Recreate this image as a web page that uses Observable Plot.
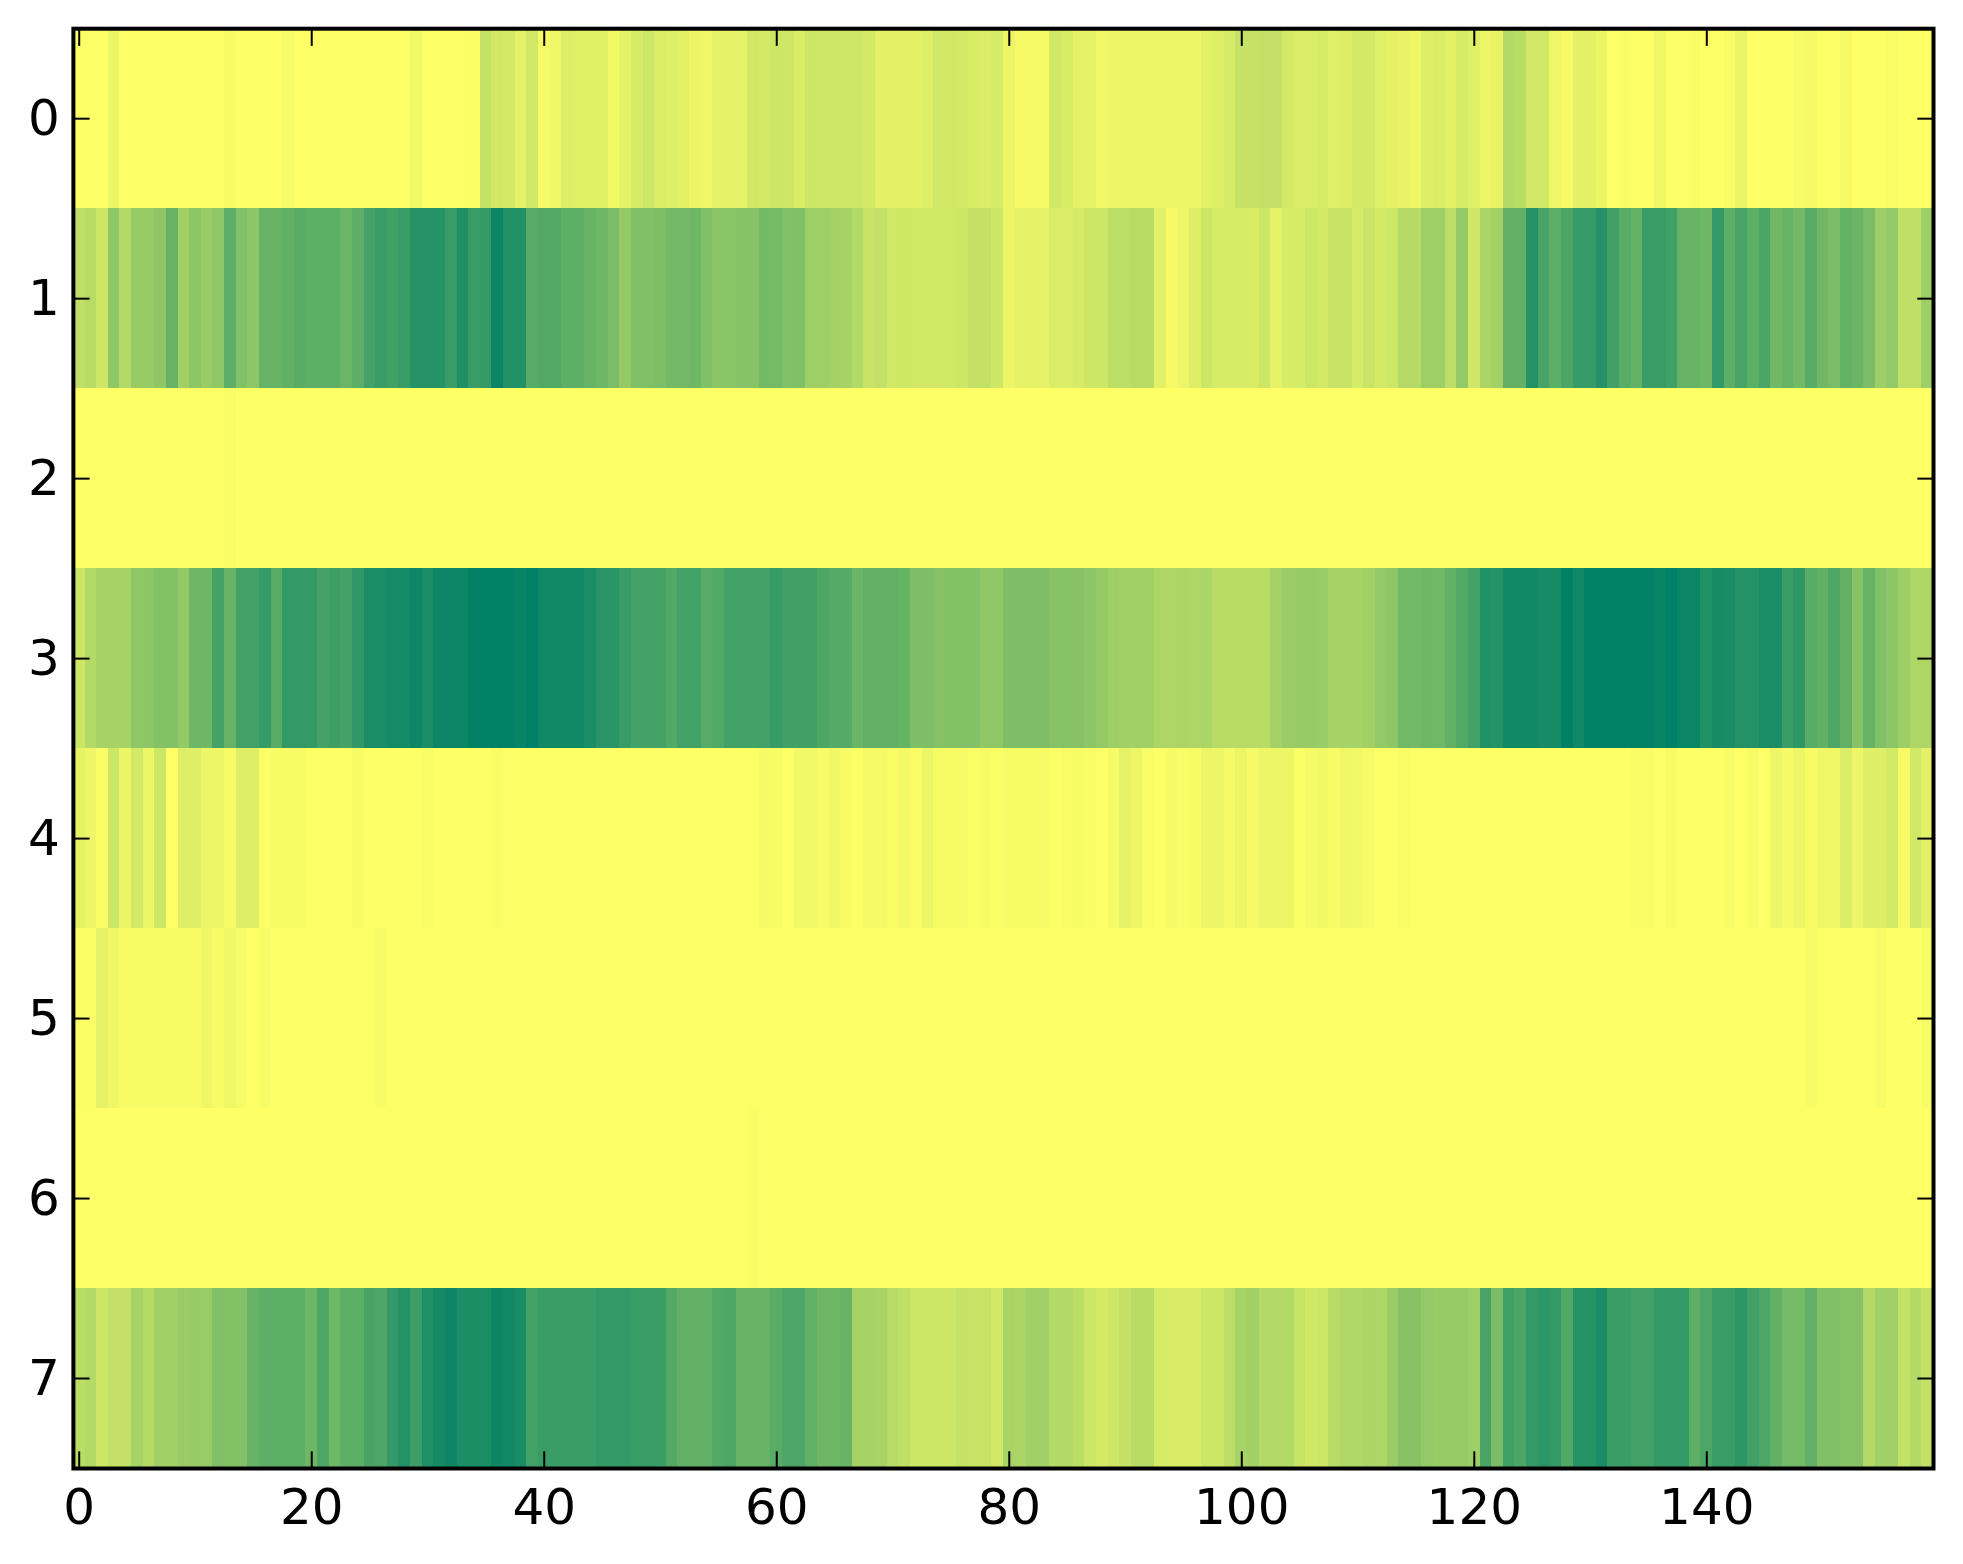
<!DOCTYPE html>
<html>
<head>
<meta charset="utf-8">
<style>html,body{margin:0;padding:0;background:#fff}svg{display:block}</style>
<script src="https://cdn.jsdelivr.net/npm/d3@7"></script>
<script src="https://cdn.jsdelivr.net/npm/@observablehq/plot@0.6"></script>
</head>
<body>
<div id="chart"></div>
<script>
const xTicks = [0,20,40,60,80,100,120,140];
const yTicks = [0,1,2,3,4,5,6,7];
const row0 = [0,0,0,.07,0,0,0,0,0,0, 0,0,0,.03,0,0,0,0,.03,0, 0,0,0,0,0,0,0,0,0,.05, 0,0,0,0,.01,.23,.18,.17,.1,.18,
 .04,.06,.13,.12,.12,.12,.05,.1,.16,.2, .14,.13,.11,.07,.06,.1,.1,.1,.18,.17, .2,.19,.14,.2,.19,.19,.19,.19,.17,.11, .11,.11,.11,.13,.18,.18,.17,.15,.14,.16,
 .08,.04,.04,.04,.18,.15,.1,.1,.05,.07, .07,.07,.07,.07,.07,.07,.07,.11,.13,.16, .23,.23,.24,.24,.17,.14,.14,.16,.12,.14, .17,.17,.12,.1,.09,.06,.13,.14,.11,.16,
 .12,.07,.09,.3,.27,.18,.18,.06,.04,.11, .11,.08,0,.02,0,0,.06,0,0,.02, 0,0,.02,.08,0,0,0,0,.03,.04, 0,0,.04,0,0,0,.02,0,0,0];
const row1 = [.25,.28,.2,.43,.3,.41,.41,.44,.6,.37, .45,.4,.44,.63,.5,.45,.6,.6,.62,.65, .63,.63,.63,.58,.63,.73,.77,.74,.78,.85, .85,.85,.78,.88,.78,.8,.96,.87,.87,.66,
 .68,.68,.63,.63,.6,.57,.52,.42,.5,.5, .51,.55,.55,.57,.5,.46,.46,.47,.47,.55, .54,.49,.5,.38,.38,.36,.35,.3,.22,.24, .18,.19,.18,.18,.18,.18,.2,.24,.24,.2,
 .08,.1,.1,.1,.14,.14,.16,.2,.2,.26, .26,.28,.28,.11,.04,.07,.13,.2,.16,.16, .16,.15,.2,.1,.16,.16,.2,.17,.22,.22, .16,.21,.17,.2,.29,.29,.38,.38,.26,.42,
 .19,.33,.36,.62,.62,.86,.72,.63,.7,.79, .79,.86,.75,.65,.61,.78,.78,.75,.6,.6, .57,.8,.63,.72,.63,.71,.56,.6,.55,.65, .56,.52,.61,.58,.52,.38,.42,.25,.25,.38];
const row2 = [0,0,0,0,0,0,0,0,0,0, 0,0,0,.02,0,0,0,0,0,0, 0,0,0,0,0,0,0,0,0,0, 0,0,0,0,0,0,0,0,0,0,
 0,0,0,0,0,0,0,0,0,0, 0,0,0,0,0,0,0,0,0,0, 0,0,0,0,0,0,0,0,0,0, 0,0,0,0,0,0,0,0,0,0,
 0,0,0,0,0,0,0,0,0,0, 0,0,0,0,0,0,0,0,0,0, 0,0,0,0,0,0,0,0,0,0, 0,0,0,0,0,0,0,0,0,0,
 0,0,0,0,0,0,0,0,0,0, 0,0,0,0,0,0,0,0,0,0, 0,0,0,0,0,0,0,0,0,0, 0,0,0,0,0,0,0,0,0,0];
const row3 = [.2,.3,.35,.35,.35,.44,.45,.49,.49,.42, .57,.57,.73,.6,.74,.74,.79,.66,.8,.8, .8,.73,.76,.73,.81,.9,.9,.92,.92,.95, .9,.95,.95,.95,.99,.99,.99,.99,.97,1,
 .93,.93,.93,.93,.9,.84,.84,.78,.73,.73, .73,.68,.74,.74,.66,.68,.74,.74,.74,.74, .79,.75,.75,.75,.7,.67,.67,.58,.62,.62, .62,.6,.51,.51,.48,.49,.49,.49,.44,.44,
 .51,.51,.51,.51,.47,.47,.47,.45,.42,.38, .37,.37,.37,.32,.32,.33,.32,.33,.28,.28, .28,.28,.28,.36,.4,.41,.41,.4,.35,.35, .35,.37,.42,.45,.55,.55,.57,.56,.62,.68,
 .74,.87,.85,.93,.93,.93,.91,.91,.99,.93, .99,.99,.99,.99,.99,.99,.97,1,.96,.96, .87,.91,.9,.86,.86,.9,.9,.77,.82,.65, .62,.7,.62,.47,.6,.5,.45,.38,.32,.32];
const row4 = [.1,.07,.02,.2,.08,.17,.07,.2,0,.13, .13,.07,.07,.03,.13,.13,.01,.03,.03,.03, 0,0,0,0,.03,0,0,0,0,0, .02,0,0,0,0,0,.02,0,0,0,
 0,0,0,0,0,0,0,0,0,0, 0,0,0,0,0,0,0,0,0,.04, .03,0,.05,.05,.03,.06,.03,0,.04,.04, .02,.05,.02,.07,.03,.03,.03,.01,.03,.01,
 .03,.03,.03,.03,0,.02,.03,.02,0,.04, .1,.07,.02,0,.04,.02,.03,.07,.07,.04, .08,.04,.07,.07,.07,.01,.04,.05,.03,.06, .05,.03,0,0,.02,0,0,0,0,0,
 0,0,0,0,0,0,0,0,0,0, 0,0,0,0,.02,.02,0,.03,0,0, 0,0,.03,0,.03,0,.07,.04,.07,.03, .06,.06,.14,.07,.13,.13,.17,.04,.18,.11];
const row5 = [.01,.01,.1,.06,.035,.035,.035,.035,.035,.035, .035,.06,.03,.06,.03,0,.03,0,0,0, 0,0,0,0,0,0,.03,0,0,0, 0,0,0,0,0,0,0,0,0,0,
 0,0,0,0,0,0,0,0,0,0, 0,0,0,0,0,0,0,0,0,0, 0,0,0,0,0,0,0,0,0,0, 0,0,0,0,0,0,0,0,0,0,
 0,0,0,0,0,0,0,0,0,0, 0,0,0,0,0,0,0,0,0,0, 0,0,0,0,0,0,0,0,0,0, 0,0,0,0,0,0,0,0,0,0,
 0,0,0,0,0,0,0,0,0,0, 0,0,0,0,0,0,0,0,0,0, 0,0,0,0,0,0,0,0,0,.03, 0,0,0,0,0,.03,0,0,0,.03];
const row6 = [0,0,0,0,0,0,0,0,0,0, 0,0,0,0,0,0,0,0,0,0, 0,0,0,0,0,0,0,0,0,0, 0,0,0,0,0,0,0,0,0,0,
 0,0,0,0,0,0,0,0,0,0, 0,0,0,0,0,0,0,0,.015,0, 0,0,0,0,0,0,0,0,0,0, 0,0,0,0,0,0,0,0,0,0,
 0,0,0,0,0,0,0,0,0,0, 0,0,0,0,0,0,0,0,0,0, 0,0,0,0,0,0,0,0,0,0, 0,0,0,0,0,0,0,0,0,0,
 0,0,0,0,0,0,0,0,0,0, 0,0,0,0,0,0,0,0,0,0, 0,0,0,0,0,0,0,0,0,0, 0,0,0,0,0,0,0,0,0,0];
const row7 = [.27,.3,.2,.24,.24,.35,.29,.37,.37,.4, .41,.4,.5,.49,.49,.6,.63,.63,.63,.63, .57,.69,.57,.63,.63,.72,.7,.8,.86,.76, .88,.92,.95,.89,.89,.89,.95,.93,.9,.74,
 .77,.77,.77,.77,.77,.8,.8,.8,.78,.78, .77,.68,.62,.62,.62,.68,.7,.6,.6,.6, .65,.7,.7,.62,.57,.57,.6,.35,.35,.34, .28,.25,.2,.2,.2,.2,.23,.22,.22,.18,
 .34,.33,.37,.37,.3,.3,.27,.2,.17,.2, .24,.28,.28,.16,.15,.15,.15,.2,.2,.26, .35,.37,.3,.3,.3,.22,.18,.2,.28,.31, .31,.33,.32,.4,.47,.47,.42,.41,.41,.41,
 .38,.72,.52,.75,.7,.8,.83,.8,.68,.85, .85,.9,.77,.77,.74,.74,.8,.8,.8,.63, .7,.78,.78,.83,.75,.7,.62,.54,.54,.62, .5,.5,.47,.47,.3,.37,.37,.24,.3,.24];

const rows = [row0,row1,row2,row3,row4,row5,row6,row7];
const cells = rows.flatMap((r,y) => r.map((v,x) => ({x,y,v})));
const font = {fontFamily:"'DejaVu Sans'", fontSize:50};

const plot = Plot.plot({
  width:1963, height:1564,
  marginLeft:72.9, marginRight:30, marginTop:28.2, marginBottom:96,
  style:{background:"#fff", fontFamily:"'DejaVu Sans'", overflow:"visible"},
  x:{domain:[-0.5,159.5], axis:null},
  y:{domain:[-0.5,7.5], reverse:true, axis:null},
  color:{type:"linear", domain:[0,1], range:["#ffff66","#008066"]},
  marks:[
    Plot.rect(cells,{x1:d=>d.x-0.5,x2:d=>d.x+0.5,y1:d=>d.y-0.5,y2:d=>d.y+0.5,fill:"v",inset:0,shapeRendering:"crispEdges"}),
    Plot.axisX(xTicks,{anchor:"bottom",tickSize:-16.7,strokeWidth:2,stroke:"#000",fill:"none",label:null}),
    Plot.axisX(xTicks,{anchor:"top",tickSize:-16.7,strokeWidth:2,stroke:"#000",fill:"none",label:null}),
    Plot.axisY(yTicks,{anchor:"left",tickSize:-16.7,strokeWidth:2,stroke:"#000",fill:"none",label:null}),
    Plot.axisY(yTicks,{anchor:"right",tickSize:-16.7,strokeWidth:2,stroke:"#000",fill:"none",label:null}),
    Plot.axisX(xTicks,{anchor:"bottom",tickSize:0,tickPadding:20,stroke:"none",fill:"#000",label:null,tickFormat:d=>String(d),...font}),
    Plot.axisY(yTicks,{anchor:"left",tickSize:0,tickPadding:13.5,stroke:"none",fill:"#000",label:null,tickFormat:d=>String(d),...font}),
    Plot.frame({stroke:"#000",strokeWidth:4})
  ]
});
document.getElementById("chart").appendChild(plot);
</script>
</body>
</html>
